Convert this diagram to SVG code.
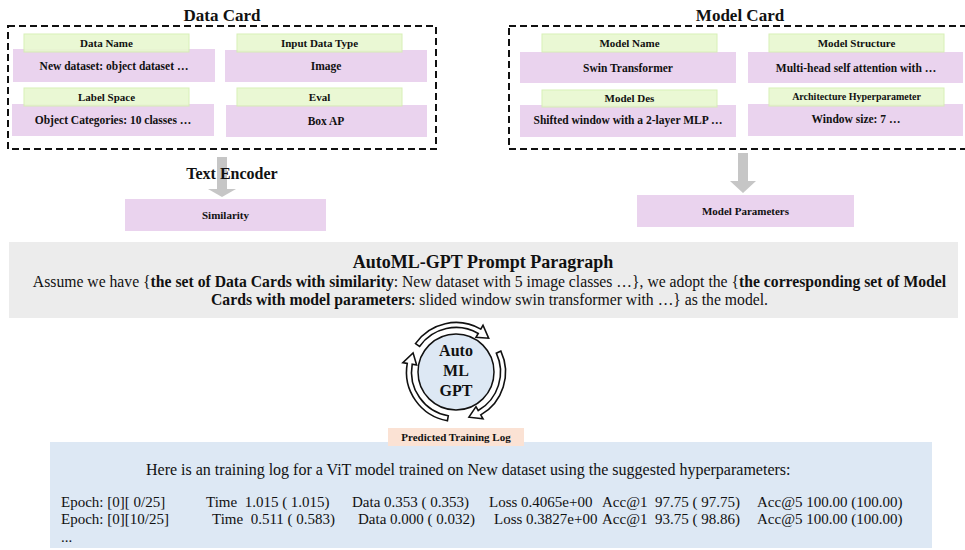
<svg xmlns="http://www.w3.org/2000/svg" width="965" height="550" viewBox="0 0 965 550">
<style>
text{font-family:"Liberation Serif","Times New Roman",serif;fill:#111}
.b{font-weight:bold}
.title{font-size:17px;font-weight:bold;text-anchor:middle}
.hd{font-size:11px;font-weight:bold;text-anchor:middle}
.ct{font-size:11.5px;font-weight:bold;text-anchor:middle}
.green{fill:#e8f8d0;stroke:#d4efb0;stroke-width:1;opacity:0.9}
.purple{fill:#ead3ee}
.dash{fill:none;stroke:#111;stroke-width:2;stroke-dasharray:7 4}
.garrow{fill:#c6c6c6}
.log{font-size:15px}
.para{font-size:15.7px;text-anchor:middle}
.ring{fill:#fff;stroke:#111;stroke-width:1.6;stroke-linejoin:miter}
.cl{font-size:16px;font-weight:bold;text-anchor:middle}
</style>
<rect width="965" height="550" fill="#fff"/>

<g id="data-card">
<text class="title" x="222" y="21">Data Card</text>
<rect class="dash" x="8" y="26" width="428" height="123"/>
<g id="data-name">
<rect class="purple" x="13" y="49" width="202" height="33"/>
<rect class="green" x="24" y="34" width="165" height="18"/>
<text class="hd" x="106.5" y="46.5">Data Name</text>
<text class="ct" x="114" y="70">New dataset: object dataset …</text>
</g>
<g id="input-data-type">
<rect class="purple" x="225" y="50" width="202" height="32"/>
<rect class="green" x="237" y="34" width="165" height="18"/>
<text class="hd" x="319.5" y="46.5">Input Data Type</text>
<text class="ct" x="326" y="70">Image</text>
</g>
<g id="label-space">
<rect class="purple" x="12" y="104" width="202" height="32"/>
<rect class="green" x="24" y="88" width="165" height="18"/>
<text class="hd" x="106.5" y="100.5">Label Space</text>
<text class="ct" x="113" y="124">Object Categories: 10 classes …</text>
</g>
<g id="eval">
<rect class="purple" x="226" y="105" width="201" height="32"/>
<rect class="green" x="237" y="88" width="165" height="18"/>
<text class="hd" x="319.5" y="100.5">Eval</text>
<text class="ct" x="326" y="124.5">Box AP</text>
</g>
</g>

<g id="model-card">
<text class="title" x="740" y="21">Model Card</text>
<rect class="dash" x="509" y="26" width="470" height="123"/>
<g id="model-name">
<rect class="purple" x="520" y="52" width="216" height="31"/>
<rect class="green" x="542" y="34" width="175" height="18"/>
<text class="hd" x="629.5" y="46.5">Model Name</text>
<text class="ct" x="628" y="72">Swin Transformer</text>
</g>
<g id="model-structure">
<rect class="purple" x="748" y="52" width="215" height="31"/>
<rect class="green" x="769" y="34" width="175" height="18"/>
<text class="hd" x="856.5" y="46.5">Model Structure</text>
<text class="ct" x="856" y="72">Multi-head self attention with …</text>
</g>
<g id="model-des">
<rect class="purple" x="520" y="105" width="216" height="32"/>
<rect class="green" x="542" y="90" width="175" height="17"/>
<text class="hd" x="629.5" y="102">Model Des</text>
<text class="ct" x="628" y="124">Shifted window with a 2-layer MLP …</text>
</g>
<g id="arch-hyper">
<rect class="purple" x="748" y="104" width="215" height="32"/>
<rect class="green" x="769" y="88" width="175" height="18"/>
<text class="hd" x="856.5" y="100" style="font-size:10px">Architecture Hyperparameter</text>
<text class="ct" x="856" y="123">Window size: 7 …</text>
</g>
</g>

<g id="connectors">
<polygon class="garrow" points="217,157 227,157 227,189 236,189 222,197 208,189 217,189"/>
<polygon class="garrow" points="738,153 748,153 748,181 756,181 743,193 730,181 738,181"/>
</g>

<g id="text-encoder">
<text x="232" y="179" style="font-size:16px;font-weight:bold;text-anchor:middle">Text Encoder</text>
</g>

<g id="similarity">
<rect class="purple" x="125" y="199" width="201" height="32"/>
<text class="hd" x="225.5" y="218.5">Similarity</text>
</g>

<g id="model-parameters">
<rect class="purple" x="637" y="195" width="217" height="32"/>
<text class="hd" x="745.5" y="214.5">Model Parameters</text>
</g>

<g id="prompt-paragraph">
<rect x="9" y="242" width="949" height="76" fill="#ececec"/>
<text x="483" y="268" style="font-size:18px;font-weight:bold;text-anchor:middle">AutoML-GPT Prompt Paragraph</text>
<text class="para" x="489.5" y="287">Assume we have {<tspan class="b">the set of Data Cards with similarity</tspan>: New dataset with 5 image classes …}, we adopt the {<tspan class="b">the corresponding set of Model</tspan></text>
<text class="para" x="489.5" y="305"><tspan class="b">Cards with model parameters</tspan>: slided window swin transformer with …} as the model.</text>
</g>

<g id="automl-gpt" transform="translate(-20,0)">
<circle cx="476" cy="372" r="38" fill="#dde8f4" stroke="#111" stroke-width="1.5"/>
<path class="ring" d="M435.45,343.61 A49.5,49.5 0 0 1 500.75,329.13 L503,325.23 L508.65,338.19 L496,337.36 L498.25,333.46 A44.5,44.5 0 0 0 439.55,346.47 Z"/>
<path class="ring" d="M520.86,351.08 A49.5,49.5 0 0 1 500.75,414.87 L503,418.77 L488.95,417.18 L496,406.64 L498.25,410.54 A44.5,44.5 0 0 0 516.33,353.19 Z"/>
<path class="ring" d="M467.41,420.75 A49.5,49.5 0 0 1 427.25,363.41 L422.82,362.63 L433.07,352.89 L436.61,365.06 L432.18,364.27 A44.5,44.5 0 0 0 468.27,415.82 Z"/>
<text class="cl" x="476" y="356">Auto</text>
<text class="cl" x="476" y="376">ML</text>
<text class="cl" x="476" y="396">GPT</text>
</g>

<g id="training-log">
<rect x="50" y="442" width="882" height="106" fill="#dde8f4"/>
<text x="146" y="475" style="font-size:16px">Here is an training log for a ViT model trained on New dataset using the suggested hyperparameters:</text>
<text class="log" y="507" xml:space="preserve"><tspan x="61">Epoch: [0][ 0/25]</tspan><tspan x="206">Time  1.015 ( 1.015)</tspan><tspan x="352">Data 0.353 ( 0.353)</tspan><tspan x="489">Loss 0.4065e+00</tspan><tspan x="602">Acc@1  97.75 ( 97.75)</tspan><tspan x="757">Acc@5 100.00 (100.00)</tspan></text>
<text class="log" y="524" xml:space="preserve"><tspan x="61">Epoch: [0][10/25]</tspan><tspan x="212">Time  0.511 ( 0.583)</tspan><tspan x="358">Data 0.000 ( 0.032)</tspan><tspan x="494">Loss 0.3827e+00</tspan><tspan x="602">Acc@1  93.75 ( 98.86)</tspan><tspan x="757">Acc@5 100.00 (100.00)</tspan></text>
<text class="log" x="61" y="542">...</text>
</g>

<g id="predicted-training-log">
<rect x="388" y="428" width="136" height="18" fill="#fbe2d4"/>
<text class="hd" x="456" y="441">Predicted Training Log</text>
</g>
</svg>
